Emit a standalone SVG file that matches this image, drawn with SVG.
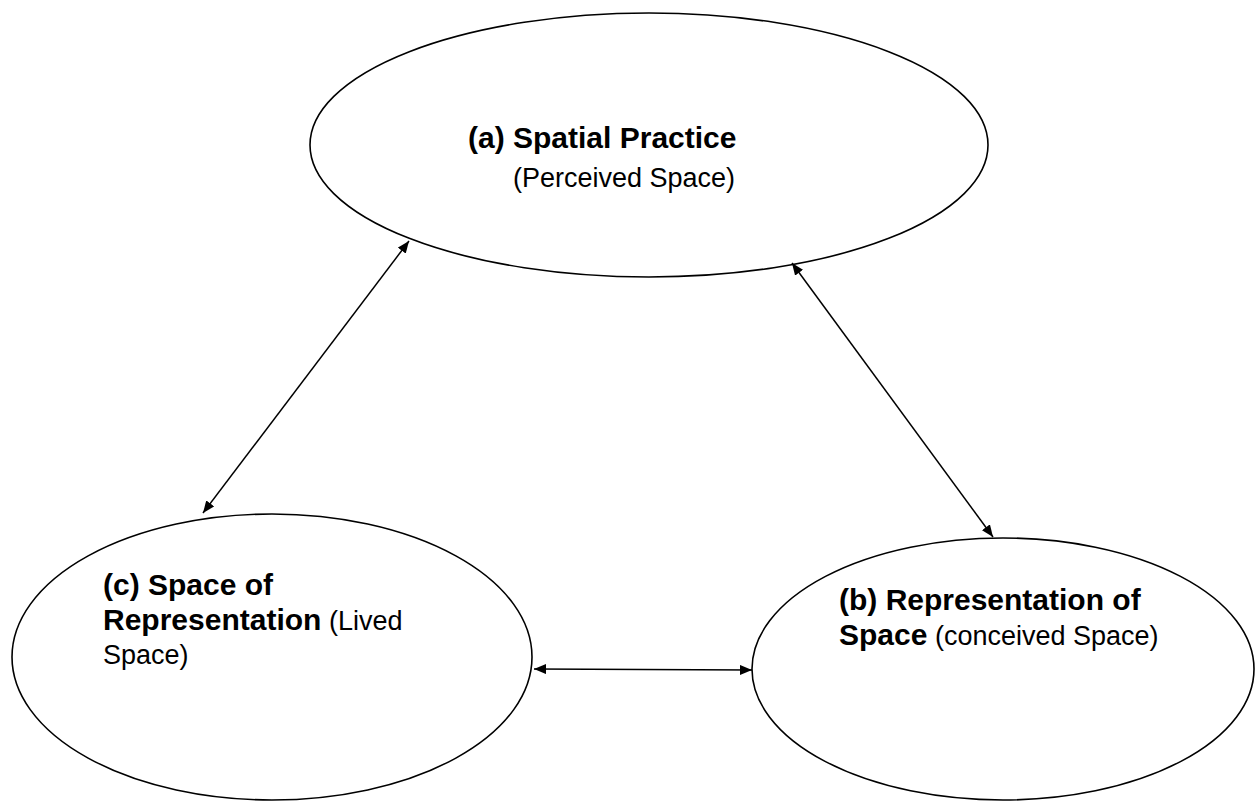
<svg xmlns="http://www.w3.org/2000/svg" width="1255" height="802" viewBox="0 0 1255 802">
<defs>
<style>
.node{fill:#fff;stroke:#000;stroke-width:1.6}
.edge{stroke:#000;stroke-width:1.5;fill:none}
.b{font-family:"Liberation Sans",Arial,sans-serif;font-weight:bold;font-size:30px;fill:#000}
.r{font-family:"Liberation Sans",Arial,sans-serif;font-weight:normal;font-size:27px;fill:#000}
</style>
<marker id="ah" viewBox="0 0 12 10" refX="12" refY="5" markerWidth="12" markerHeight="10" markerUnits="userSpaceOnUse" orient="auto-start-reverse">
<path d="M0,0 L12,5 L0,10 Z" fill="#000"/>
</marker>
</defs>
<rect width="1255" height="802" fill="#fff"/>
<g id="node-a">
<ellipse class="node" cx="649" cy="145" rx="339" ry="132"/>
<text class="b" x="468" y="148">(a) Spatial Practice</text>
<text class="r" x="513" y="187">(Perceived Space)</text>
</g>
<g id="node-b">
<ellipse class="node" cx="1003" cy="669" rx="251" ry="131"/>
<text x="839" y="610"><tspan class="b">(b) Representation of</tspan></text>
<text x="839" y="645"><tspan class="b">Space</tspan><tspan class="r"> (conceived Space)</tspan></text>
</g>
<g id="node-c">
<ellipse class="node" cx="272" cy="657" rx="260" ry="143"/>
<text x="103" y="595"><tspan class="b">(c) Space of</tspan></text>
<text x="103" y="630"><tspan class="b">Representation</tspan><tspan class="r"> (Lived</tspan></text>
<text class="r" x="103" y="664">Space)</text>
</g>
<g id="connectors">
<line class="edge" x1="409" y1="241" x2="203" y2="513" marker-start="url(#ah)" marker-end="url(#ah)"/>
<line class="edge" x1="792" y1="263" x2="993" y2="537" marker-start="url(#ah)" marker-end="url(#ah)"/>
<line class="edge" x1="534" y1="669" x2="752" y2="670" marker-start="url(#ah)" marker-end="url(#ah)"/>
</g>
</svg>
